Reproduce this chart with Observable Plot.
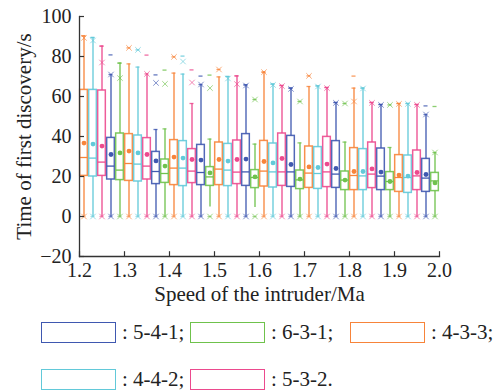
<!DOCTYPE html>
<html><head><meta charset="utf-8">
<script src="https://cdn.jsdelivr.net/npm/d3@7"></script>
<script src="https://cdn.jsdelivr.net/npm/@observablehq/plot@0.6"></script>
<style>
body{margin:0;background:#fff;}
#wrap{position:relative;width:502px;height:391px;overflow:hidden;font-family:"Liberation Serif","Times New Roman",serif;color:#222;}
.item{position:absolute;display:flex;align-items:center;font-size:21px;line-height:20px;white-space:nowrap;}
.sw{width:73px;height:19px;border:1.6px solid;background:#fff;margin-right:6px;flex:none;}
.item span{position:relative;top:-1px;}
</style></head>
<body><div id="wrap"><div id="chart"></div></div>
<script>
const seriesNames = ["5-4-1","6-3-1","4-3-3","4-4-2","5-3-2"];
const seriesColors = ["#3f58b0","#6fc24c","#f7843a","#62c9d9","#ec4a8e"];
const speeds = [1.21,1.23,1.25,1.27,1.29,1.31,1.33,1.35,1.37,1.39,1.41,1.43,1.45,1.47,1.49,1.51,1.53,1.55,1.57,1.59,1.61,1.63,1.65,1.67,1.69,1.71,1.73,1.75,1.77,1.79,1.81,1.83,1.85,1.87,1.89,1.91,1.93,1.95,1.97,1.99];
const series = ["4-3-3","4-4-2","5-3-2","5-4-1","6-3-1","4-3-3","4-4-2","5-3-2","5-4-1","6-3-1","4-3-3","4-4-2","5-3-2","5-4-1","6-3-1","4-3-3","4-4-2","5-3-2","5-4-1","6-3-1","4-3-3","4-4-2","5-3-2","5-4-1","6-3-1","4-3-3","4-4-2","5-3-2","5-4-1","6-3-1","4-3-3","4-4-2","5-3-2","5-4-1","6-3-1","4-3-3","4-4-2","5-3-2","5-4-1","6-3-1"];
const q3 = [63.3,63.3,63,39.3,41.5,41.2,40.5,39.2,32.3,28.5,38.2,37.7,33.7,35.8,24.7,37,36.3,38,41.2,23.2,37.8,36.5,41.5,40.3,23,35,34.7,39.8,37.7,22.5,34.2,33.7,37,34,22.2,30.7,30.5,33,28.8,21.8];
const median = [29.5,29.2,27.2,25.2,23.2,26.5,26.2,25.2,22.5,21.5,24.2,24.2,22.7,22,19.8,23.7,23.2,22.2,22.3,19.5,22.7,22.3,22.3,22.3,18.3,21.7,21.5,22.3,21.2,18.2,20.5,20.3,21.2,20.2,17.5,19.5,19.5,20.3,19.2,17.8];
const mean = [36.7,36.2,35.2,31,31.8,32.7,31.8,31,27.8,25.2,29.7,29.2,28.5,28.2,21.8,28.5,27.7,28.5,28.7,19.8,27.5,26.8,29,26,18.7,24.8,24.5,26.2,24,18.2,22.5,22.5,23.8,22.2,17.5,20.7,20.2,22,21,16.8];
const q1 = [20.3,20,20.3,18.5,18.2,17.8,17.5,18.5,16.2,16.8,15.7,15.2,16.7,15.7,15.3,15.7,15.2,16.2,15.3,14.2,15,14.5,15.3,14.8,13.7,14.3,13.8,14.7,14.3,13.2,13.2,13.2,14.2,13.2,13.2,12.3,11.8,13.2,12.3,12.7];
const whiskerLo = [0,0,0,0,0,0,0,0,0,0,0,0,0,0,4.8,0,0,0,0,4.5,0,0,0,0,0,0,0,0,0,0,0,0,0,0,0,0,0,0,0,0];
const whiskerHi = [90.3,89.5,85.2,71,76.7,76.3,74.7,71.3,43.5,43.8,71.7,71.2,56.5,66,38.7,69.8,70,70.3,65.8,36.2,72.2,66.2,65.5,64.2,36.8,65,65.3,64.5,57,37.2,64.2,64.2,57,56,34.5,56.5,56.5,56,51,32];
const crossTop = [89.3,88,77,71,69.2,84.3,83.3,71.3,66.8,66.3,79.8,77.5,67,66,64.2,73.5,69,66.2,65.5,58.5,72.2,65.8,65.2,63.8,57.5,70.3,65,64.2,56.8,56.5,57.5,64,56.8,55.8,55.8,56.3,56.3,55.8,51,32];
const dashTop = [90.3,89.5,85.2,80.8,76.7,84.3,83.3,80.7,70.8,73.2,79.8,80.2,73.3,70.2,70.7,73.5,70,70.3,65.8,58.5,72.2,66.2,65.5,64.2,57.5,70.3,65.3,64.5,57,56.5,70.2,64.2,57,56,55.8,56.5,56.5,56,55.3,55];
const minVal = [0,0,0,0,0,0,0,0,0,0,0,0,0,0,0,0,0,0,0,0,0,0,0,0,0,0,0,0,0,0,0,0,0,0,0,0,0,0,0,0];
const xTicks = [1.2,1.3,1.4,1.5,1.6,1.7,1.8,1.9,2.0];
const yTicks = [-20,0,20,40,60,80,100];
const legendLabels = [": 5-4-1;",": 6-3-1;",": 4-3-3;",": 4-4-2;",": 5-3-2."];

const rows = speeds.map((s,i)=>({s, g:series[i], q1:q1[i], q3:q3[i], med:median[i], mean:mean[i],
  lo:whiskerLo[i], hi:whiskerHi[i], cross:crossTop[i], dash:dashTop[i], mn:minVal[i]}));
const bw = 0.0085, cw = 0.0045;
const axisCol = "#333";

const chart = Plot.plot({
  width: 502, height: 312,
  marginLeft: 79, marginRight: 63, marginTop: 16, marginBottom: 56,
  x: {domain: [1.2, 2.0]},
  y: {domain: [-20, 100]},
  color: {domain: seriesNames, range: seriesColors},
  style: {fontFamily: '"Liberation Serif","Times New Roman",serif', fontSize: "20px", color: "#222", background: "#fff"},
  marks: [
    Plot.ruleX(rows, {x: "s", y1: "lo", y2: "hi", stroke: "g", strokeWidth: 1.3}),
    Plot.ruleY(rows, {y: "hi", x1: d => d.s - cw, x2: d => d.s + cw, stroke: "g", strokeWidth: 1.3, strokeOpacity: 0.8}),
    Plot.ruleY(rows, {y: "dash", x1: d => d.s - cw, x2: d => d.s + cw, stroke: "g", strokeWidth: 1.3, strokeOpacity: 0.8}),
    Plot.ruleY(rows, {y: "mn", x1: d => d.s - cw, x2: d => d.s + cw, stroke: "g", strokeWidth: 1.3, strokeOpacity: 0.6}),
    Plot.dot(rows, {x: "s", y: "cross", symbol: "times", r: 2.6, stroke: "g", strokeWidth: 1, strokeOpacity: 0.65}),
    Plot.dot(rows, {x: "s", y: "mn", symbol: "times", r: 2.6, stroke: "g", strokeWidth: 1, strokeOpacity: 0.65}),
    Plot.rect(rows, {x1: d => d.s - bw, x2: d => d.s + bw, y1: "q1", y2: "q3", fill: "white", stroke: "g", strokeWidth: 1.5, strokeOpacity: 0.9}),
    Plot.ruleY(rows, {y: "med", x1: d => d.s - bw, x2: d => d.s + bw, stroke: "g", strokeWidth: 1.3}),
    Plot.dot(rows, {x: "s", y: "mean", r: 2.4, fill: "g", stroke: "none"}),
    Plot.ruleX(xTicks, {x: d => d, y1: -20, y2: -17.6, stroke: axisCol, strokeWidth: 1.2}),
    Plot.ruleY(yTicks, {y: d => d, x1: 1.2, x2: 1.2 + 5/450, stroke: axisCol, strokeWidth: 1.2}),
    Plot.frame({anchor: "left", stroke: axisCol, strokeWidth: 1.3}),
    Plot.frame({anchor: "bottom", stroke: axisCol, strokeWidth: 1.3}),
    Plot.axisX({ticks: xTicks, tickSize: 0, tickPadding: 6, tickFormat: d3.format(".1f"), label: null, fontSize: 20}),
    Plot.axisX({ticks: [], tickSize: 0,
      label: "Speed of the intruder/Ma", labelAnchor: "center", labelOffset: 44, labelArrow: "none", fontSize: 21}),
    Plot.axisY({ticks: yTicks, tickSize: 0, tickPadding: 8,
      tickFormat: d => d < 0 ? "\u2212" + Math.abs(d) : String(d), label: null, fontSize: 20}),
    Plot.axisY({ticks: [], tickSize: 0,
      label: "Time of first discovery/s", labelAnchor: "center", labelOffset: 63, labelArrow: "none", fontSize: 21})
  ]
});
document.getElementById("chart").appendChild(chart);

const wrap = document.getElementById("wrap");
const legendPos = [[41,322],[190,322],[350,322],[41,369],[190,369]];
seriesNames.forEach((n,i) => {
  const it = document.createElement("div");
  it.className = "item";
  it.style.left = legendPos[i][0] + "px";
  it.style.top = legendPos[i][1] + "px";
  const sw = document.createElement("div");
  sw.className = "sw";
  sw.style.borderColor = seriesColors[i];
  it.appendChild(sw);
  const t = document.createElement("span");
  t.textContent = legendLabels[i];
  it.appendChild(t);
  wrap.appendChild(it);
});
</script></body></html>
